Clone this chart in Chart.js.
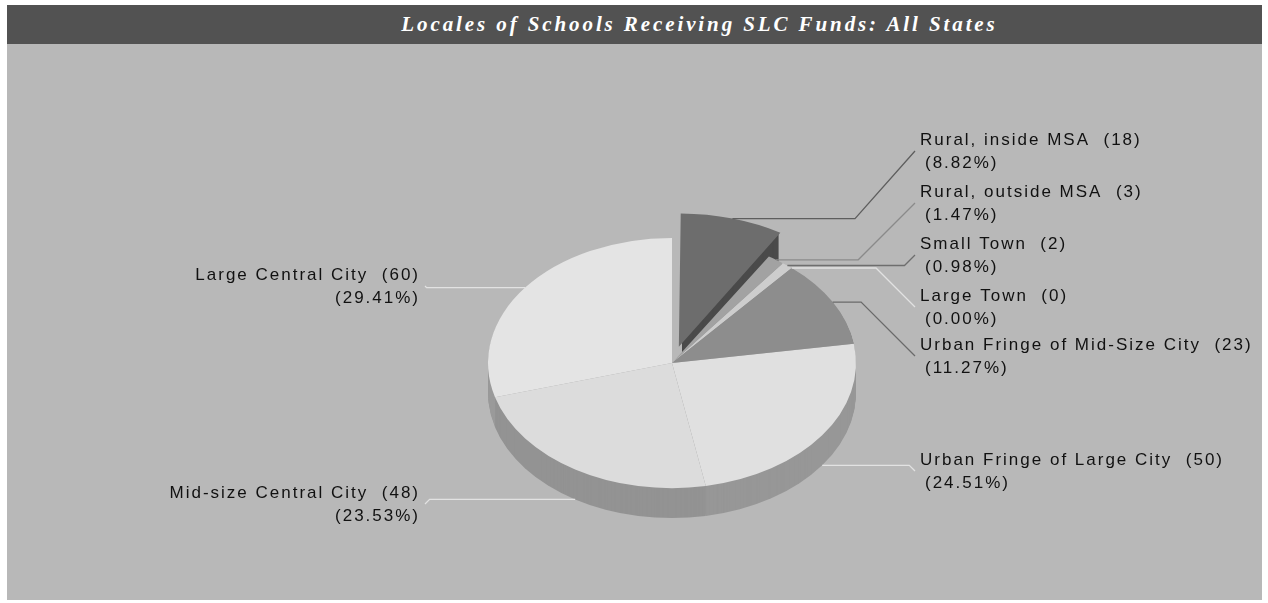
<!DOCTYPE html>
<html>
<head>
<meta charset="utf-8">
<script src="https://cdn.jsdelivr.net/npm/chart.js@4.4.0/dist/chart.umd.min.js"></script>
<style>
    body { margin: 0; background: #fff; width: 1268px; height: 603px; overflow: hidden; position: relative; }
    #painel { position: absolute; left: 7px; top: 44px; width: 1255px; height: 556px; background: #b8b8b8; }
    #titulo {
        position: absolute; left: 7px; top: 5px; width: 1255px; height: 39px; background: #525252;
        color: #fff; font: italic bold 21px "Liberation Serif", "DejaVu Serif", serif; letter-spacing: 2.9px;
        line-height: 39px; text-align: center; text-indent: 130px;
    }
    #grafico { position: absolute; left: 0; top: 0; }
</style>
</head>
<body>
<div id="painel"></div>
<div id="titulo">Locales of Schools Receiving SLC Funds: All States</div>
<canvas id="grafico" width="1268" height="603"></canvas>
<script>
// dados
const categorias = [
    'Rural, inside MSA',
    'Rural, outside MSA',
    'Small Town',
    'Large Town',
    'Urban Fringe of Mid-Size City',
    'Urban Fringe of Large City',
    'Mid-size Central City',
    'Large Central City',
];
const escolas = [18, 3, 2, 0, 23, 50, 48, 60];

// estilo
const coresTopo = ['#6d6d6d', '#a2a2a2', '#cdcdcd', '#9a9a9a', '#8d8d8d', '#e0e0e0', '#dcdcdc', '#e4e4e4'];
const coresLado = ['#4a4a4a', '#727272', '#8e8e8e', '#6a6a6a', '#616161', '#979797', '#939393', '#9a9a9a'];
const coresLinha = ['#5e5e5e', '#8a8a8a', '#6e6e6e', '#e2e2e2', '#6a6a6a', '#e2e2e2', '#e2e2e2', '#e2e2e2'];
const destaque = [100, 0, 0, 0, 0, 0, 0, 0];

const RATIO = 0.68;
const DEPTH = 30;
// posicao dos rotulos (linha de cima de cada um)
const slots = [
    { lado: 'r', y: 140 }, { lado: 'r', y: 192 }, { lado: 'r', y: 244 }, { lado: 'r', y: 296 },
    { lado: 'r', y: 345 }, { lado: 'r', y: 460 }, { lado: 'l', y: 493 }, { lado: 'l', y: 275 },
];

const total = escolas.reduce((a, b) => a + b, 0);

// deslocamento real que o ArcElement aplica
const desloc = (a) => {
    const off = (a.options.offset || 0) / 4;
    const fix = 1 - Math.sin(Math.min(Math.PI, a.circumference || 0));
    const mid = (a.startAngle + a.endAngle) / 2;
    const k = off * (1 + fix);
    return { ox: Math.cos(mid) * k, oy: Math.sin(mid) * k, mid };
};

const pizza3d = {
    id: 'pizza3d',
    beforeDatasetsDraw(chart) {
        const ctx = chart.ctx;
        const arcs = chart.getDatasetMeta(0).data;
        const cx = arcs[0].x, cy = arcs[0].y;
        ctx.save();
        ctx.translate(cx, cy);
        ctx.scale(1, RATIO);
        ctx.translate(-cx, -cy);
        // lateral da pizza
        for (let d = DEPTH; d > 0; d--) {
            arcs.forEach((a, i) => {
                if (!a.circumference) return;
                const { ox, oy } = desloc(a);
                const y = a.y + oy + d / RATIO;
                ctx.beginPath();
                ctx.moveTo(a.x + ox, y);
                ctx.arc(a.x + ox, y, a.outerRadius, a.startAngle, a.endAngle);
                ctx.closePath();
                ctx.fillStyle = coresLado[i];
                ctx.fill();
            });
        }
    },
    afterDatasetsDraw(chart) {
        const ctx = chart.ctx;
        ctx.restore();
        const arcs = chart.getDatasetMeta(0).data;
        ctx.save();
        ctx.font = '17px "Liberation Sans", Arial, sans-serif';
        ctx.letterSpacing = '2px';
        ctx.textBaseline = 'middle';
        ctx.lineWidth = 1.3;
        arcs.forEach((a, i) => {
            const { ox, oy, mid } = desloc(a);
            let sx = a.x + ox + Math.cos(mid) * a.outerRadius;
            let sy = a.y + (oy + Math.sin(mid) * a.outerRadius) * RATIO;
            if (Math.sin(mid) > 0.3) sy += DEPTH;
            const s = slots[i];
            const ty = s.y + 11;
            const dy = Math.abs(ty - sy);
            ctx.strokeStyle = coresLinha[i];
            ctx.beginPath();
            ctx.moveTo(sx, sy);
            if (s.lado === 'r') {
                const fim = 915;
                const ex = fim - Math.min(60, dy);
                ctx.lineTo(ex, sy);
                ctx.lineTo(fim, ty);
            } else {
                const fim = 425;
                const ex = fim + Math.min(60, dy);
                ctx.lineTo(ex, sy);
                ctx.lineTo(fim, ty);
            }
            ctx.stroke();

            const pct = '(' + ((escolas[i] / total) * 100).toFixed(2) + '%)';
            const nome = categorias[i] + '  (' + escolas[i] + ')';
            ctx.fillStyle = '#111';
            if (s.lado === 'r') {
                ctx.textAlign = 'left';
                ctx.fillText(nome, 920, s.y);
                ctx.fillText(pct, 925, s.y + 23);
            } else {
                ctx.textAlign = 'right';
                ctx.fillText(nome, 420, s.y);
                ctx.fillText(pct, 420, s.y + 23);
            }
        });
        ctx.restore();
    },
};

new Chart(document.getElementById('grafico'), {
    type: 'pie',
    data: {
        labels: categorias,
        datasets: [{
            data: escolas,
            backgroundColor: coresTopo,
            borderWidth: 0,
            offset: destaque,
            radius: 184,
        }],
    },
    options: {
        responsive: false,
        animation: false,
        events: [],
        layout: { padding: { left: 76, right: 0, top: 123, bottom: 0 } },
        plugins: { legend: { display: false }, tooltip: { enabled: false }, title: { display: false } },
    },
    plugins: [pizza3d],
});
</script>
</body>
</html>
